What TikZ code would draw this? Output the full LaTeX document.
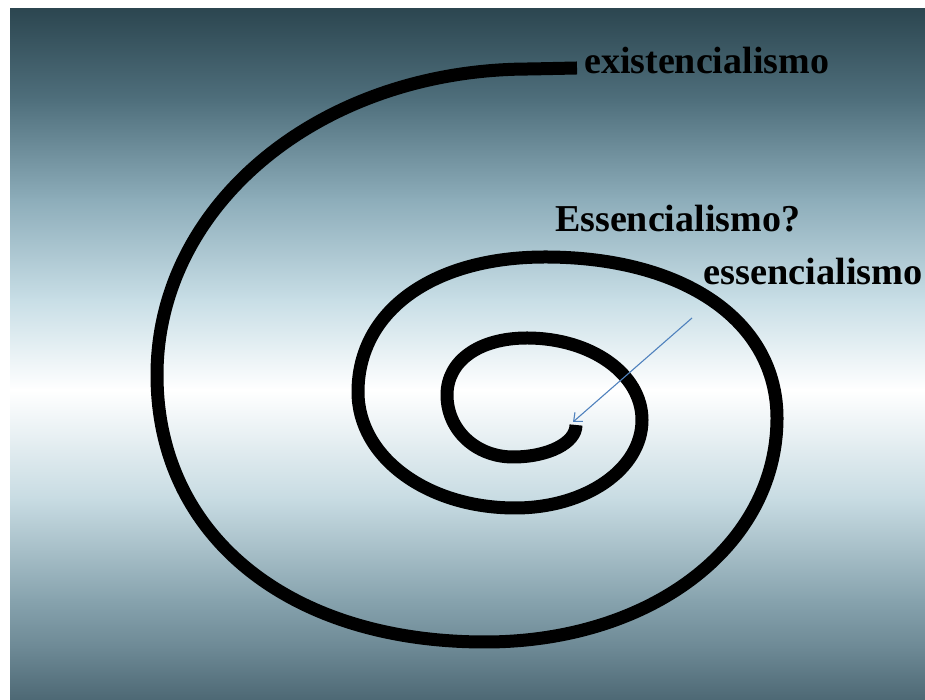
\documentclass[tikz,border=0pt]{standalone}
\usepackage{fontspec}
\setmainfont{Liberation Serif}
\usepackage{tikz}
\usetikzlibrary{arrows.meta}
\definecolor{Ink}{HTML}{000000}
\definecolor{Pointer}{HTML}{4F81BD}
\definecolor{BgA}{HTML}{2C4650}
\definecolor{BgB}{HTML}{4F6F7C}
\definecolor{BgC}{HTML}{8DADBA}
\definecolor{BgD}{HTML}{C8DEE6}
\definecolor{BgE}{HTML}{FFFFFF}
\definecolor{BgF}{HTML}{C7DBE2}
\definecolor{BgG}{HTML}{87A3AE}
\definecolor{BgH}{HTML}{6C8894}
\definecolor{BgI}{HTML}{4D6874}

\begin{document}
\begin{tikzpicture}[x=1pt,y=1pt,
    word/.style={font=\fontsize{38}{40}\selectfont\bfseries,Ink,inner sep=0pt,anchor=base west}]
  \useasboundingbox (0,0) rectangle (925,700);
  \fill[white] (0,0) rectangle (925,700);
  % slide background, dark at top and bottom, white in the middle
  \foreach \ya/\yb/\ca/\cb in {
    691/600/BgA/BgB,
    600/500/BgB/BgC,
    500/400/BgC/BgD,
    400/310/BgD/BgE,
    310/200/BgE/BgF,
    200/100/BgF/BgG,
    100/50/BgG/BgH,
    50/0/BgH/BgI} {
    \shade[top color=\ca,bottom color=\cb] (10,{\ya+0.4}) rectangle (925,{\yb-0.4});
  }
  % the spiral, one quarter turn per piece, from the outer end inwards
  \draw[Ink,line width=13]
    (577,632) -- (530,631)
    .. controls +(-209,0) and +(0,171) .. (157,325)
    .. controls +(0,-160) and +(-197,0) .. (485,58)
    .. controls +(166,0) and +(0,-128) .. (777,282)
    .. controls +(0,97) and +(139,0) .. (545,443)
    .. controls +(-112,0) and +(0,81) .. (358,308)
    .. controls +(0,-65) and +(-88,0) .. (515,192)
    .. controls +(71,0) and +(0,-49) .. (642,280)
    .. controls +(0,46) and +(64,0) .. (527,362)
    .. controls +(-48,0) and +(0,34) .. (447,305)
    .. controls +(0,-35) and +(-37,0) .. (513,243)
    .. controls +(35,0) and +(0,-18) .. (576,275);
  \node[word] (exist) at (584,626) {existencialismo};
  \node[word] (essq) at (555,468) {Essencialismo?};
  \node[word,xscale=1.01] (ess) at (703,415) {essencialismo};
  \coordinate (tail) at (692,382);
  \coordinate (core) at (573,278);
  \draw[Pointer,line width=1.1,-{Straight Barb[length=7pt,width=12pt]}] (tail) -- (core);
\end{tikzpicture}
\end{document}
